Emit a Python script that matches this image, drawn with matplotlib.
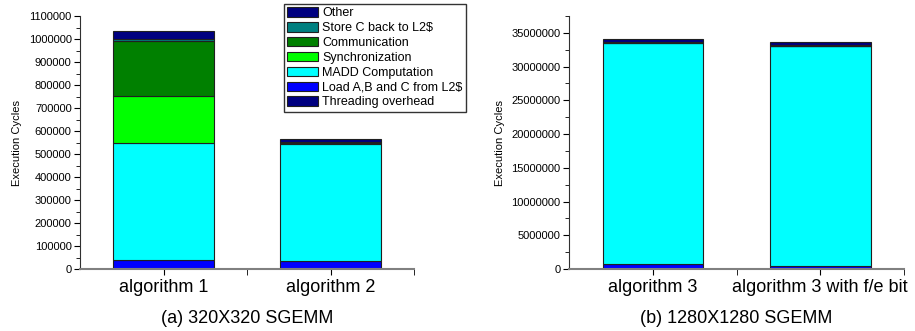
import matplotlib.pyplot as plt
from matplotlib.patches import Patch
from matplotlib.ticker import MultipleLocator

plt.rcParams['font.family'] = ['Liberation Sans', 'DejaVu Sans']

# stacking order (bottom -> top)
composants = ["Threading overhead", "Load A,B and C from L2$", "MADD Computation",
              "Synchronization", "Communication", "Store C back to L2$", "Other"]
couleurs = ['#000080', '#0000FF', '#00FFFF', '#00FF00', '#008000', '#008080', '#000080']

# (a) 320X320 SGEMM
algos_a = ["algorithm 1", "algorithm 2"]
threading_a = [2000, 2000]
load_a = [36000, 33000]
madd_a = [510000, 508000]
sync_a = [205000, 3000]
comm_a = [238000, 3000]
store_a = [7000, 5000]
other_a = [38000, 10000]

# (b) 1280X1280 SGEMM
algos_b = ["algorithm 3", "algorithm 3 with f/e bit"]
threading_b = [50000, 50000]
load_b = [750000, 350000]
madd_b = [32700000, 32600000]
sync_b = [50000, 50000]
comm_b = [50000, 50000]
store_b = [100000, 100000]
other_b = [450000, 500000]

series_a = [threading_a, load_a, madd_a, sync_a, comm_a, store_a, other_a]
series_b = [threading_b, load_b, madd_b, sync_b, comm_b, store_b, other_b]

W, H = 915, 331
fig = plt.figure(figsize=(W / 100, H / 100), dpi=100)
ax_a = fig.add_axes([80 / W, 1 - 269 / H, 334 / W, 253 / H])
ax_b = fig.add_axes([569 / W, 1 - 269 / H, 335 / W, 253 / H])


def dessine(ax, algos, series, ymax, major, minor, legende):
    x = [1, 2]
    bas = [0] * len(algos)
    for vals, c in zip(series, couleurs):
        ax.bar(x, vals, 0.6, bottom=bas, color=c, edgecolor='#202020', linewidth=0.8, zorder=2)
        bas = [b + v for b, v in zip(bas, vals)]
    ax.set_xlim(0.5, 2.5)
    ax.set_ylim(0, ymax)
    ax.set_xticks(x)
    ax.set_xticklabels(algos, fontsize=13)
    ax.set_xticks([1.5, 2.5], minor=True)
    ax.yaxis.set_major_locator(MultipleLocator(major))
    ax.yaxis.set_minor_locator(MultipleLocator(minor))
    ax.ticklabel_format(axis='y', style='plain', useOffset=False)
    ax.tick_params(axis='y', which='major', direction='out', length=4, labelsize=8, pad=2)
    ax.tick_params(axis='y', which='minor', direction='out', length=3)
    ax.tick_params(axis='x', which='both', direction='out', length=4, pad=3)
    for s in ['top', 'right']:
        ax.spines[s].set_visible(False)
    ax.spines['left'].set_color('#303030')
    ax.spines['bottom'].set_color('#808080')
    ax.spines['bottom'].set_linewidth(1.5)
    ax.set_ylabel("Execution Cycles", fontsize=8, labelpad=5)
    ax.set_xlabel(legende, fontsize=13, labelpad=10)


dessine(ax_a, algos_a, series_a, 1100000, 100000, 50000, "(a) 320X320 SGEMM")
dessine(ax_b, algos_b, series_b, 37500000, 5000000, 2500000, "(b) 1280X1280 SGEMM")

poignees = [Patch(facecolor=c, edgecolor='#202020', linewidth=0.8, label=n)
            for n, c in zip(composants, couleurs)][::-1]
leg = fig.legend(handles=poignees, loc='upper left', bbox_to_anchor=(284 / W, 1 - 4 / H),
                 fontsize=9, frameon=True, fancybox=False, borderaxespad=0, borderpad=0.25,
                 labelspacing=0.22, handlelength=2.5, handleheight=0.8, handletextpad=0.3)
leg.get_frame().set_edgecolor('black')
leg.get_frame().set_linewidth(1.0)

fig.savefig("out.png", dpi=100)
